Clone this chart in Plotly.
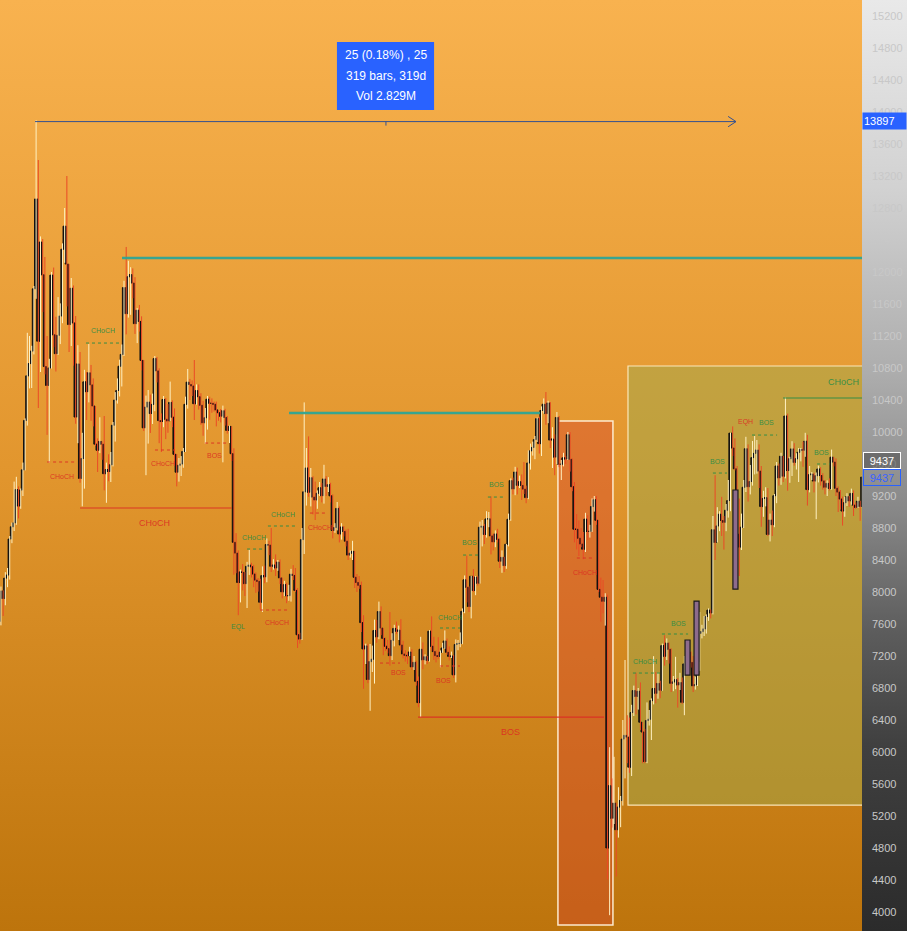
import base64
import plotly.graph_objects as go

# ---------------- data (daily candles, 2019-06-10 .. 2020-07-06) ----------------
open_first = 7632

close = [
    # Jun 2019 (10-30)
    8014, 7918, 8174, 8212, 8662, 8815, 8864, 9280, 9075, 9274, 9527, 10145, 10702, 10855, 11011, 11790, 12913, 11135, 12374, 11965, 10818,
    # Jul
    10582, 10801, 11961, 11215, 10979, 11209, 11450, 12285, 12573, 12099, 11343, 11797, 11363, 10187, 10851, 9420, 9668, 10627, 10504, 10740, 10589, 10325, 9848, 9772, 9882, 9847, 9478, 9531, 9506, 9590, 10085,
    # Aug
    10400, 10519, 10822, 10970, 11805, 11479, 11941, 11967, 11862, 11354, 11523, 11382, 10895, 10052, 10311, 10374, 10231, 10345, 10918, 10764, 10142, 10131, 10407, 10159, 10138, 10370, 10185, 9721, 9498, 9584, 9600,
    # Sep
    9757, 10346, 10623, 10594, 10575, 10353, 10517, 10441, 10334, 10115, 10178, 10410, 10360, 10358, 10347, 10276, 10241, 10198, 10266, 10181, 10019, 10070, 9729, 8621, 8486, 8118, 8251, 8245, 8104, 8321,
    # Oct
    8336, 8315, 8225, 8149, 8133, 7872, 8205, 8190, 8594, 8586, 8321, 8337, 8301, 8374, 8176, 8002, 8092, 7953, 7955, 8223, 8207, 8020, 7466, 7412, 8655, 9252, 9550, 9248, 9428, 9186, 9150,
    # Nov
    9234, 9303, 9204, 9413, 9320, 9341, 9202, 8769, 8805, 9045, 8725, 8812, 8757, 8635, 8461, 8485, 8508, 8184, 8119, 8083, 7617, 7288, 7326, 6906, 7130, 7160, 7519, 7440, 7756, 7549,
    # Dec
    7420, 7322, 7292, 7204, 7396, 7545, 7510, 7523, 7337, 7225, 7209, 7204, 7250, 7064, 7121, 6883, 6617, 7284, 7152, 7191, 7145, 7510, 7322, 7255, 7205, 7195, 7247, 7300, 7388, 7246, 7195,
    # Jan 2020
    7200, 6965, 7344, 7355, 7358, 7759, 8152, 8059, 7818, 8197, 8020, 8185, 8110, 8810, 8821, 8720, 8913, 8915, 8701, 8627, 8725, 8660, 8385, 8433, 8330, 8597, 8909, 9392, 9289, 9500, 9334,
    # Feb
    9378, 9332, 9286, 9180, 9613, 9764, 9807, 9905, 10167, 9854, 10269, 10347, 10230, 10363, 9899, 9911, 9686, 10182, 9596, 9598, 9677, 9663, 9966, 9658, 9316, 8785, 8784, 8672, 8600,
    # Mar
    8535, 8911, 8757, 8758, 9068, 9153, 8896, 8033, 7935, 7884, 7934, 4800, 5578, 5172, 5361, 5028, 5312, 5393, 6162, 6208, 6186, 5810, 6493, 6768, 6694, 6760, 6372, 6250, 5881, 6394, 6410,
    # Apr
    6642, 6794, 6734, 6857, 6772, 7330, 7197, 7361, 7283, 6858, 6876, 6903, 6838, 6868, 6621, 7101, 7027, 7248, 7120, 6827, 6841, 7125, 7483, 7505, 7539, 7694, 7774, 7738, 8778, 8620,
    # May
    8826, 8972, 8894, 8871, 9022, 9143, 9986, 9800, 9540, 8723, 8561, 8810, 9309, 9791, 9316, 9381, 9680, 9733, 9775, 9511, 9068, 9170, 9179, 8720, 8900, 8841, 9204, 9575, 9427, 9697, 9448,
    # Jun
    10200, 9518, 9666, 9789, 9621, 9666, 9746, 9782, 9772, 9885, 9280, 9465, 9474, 9386, 9454, 9538, 9456, 9388, 9310, 9358, 9294, 9685, 9624, 9296, 9249, 9162, 9012, 9116, 9192, 9138,
    # Jul
    9232, 9086, 9058, 9135, 9069, 9437,
]

high = [
    # Jun 2019
    8068, 8020, 8248, 8300, 8700, 8868, 9380, 9440, 9320, 9294, 9618, 10170, 11240, 11200, 11078, 11825, 13897, 13400, 12445, 12412, 12188,
    # Jul
    11200, 10915, 12000, 12056, 11441, 11686, 11608, 12358, 12800, 13200, 12100, 11925, 11832, 11450, 11085, 11000, 9990, 10777, 10750, 11100, 10838, 10670, 10325, 9920, 10184, 9880, 10200, 9617, 9722, 9750, 10125,
    # Aug
    10499, 10670, 10904, 11094, 11890, 12313, 12140, 12060, 12045, 11935, 11549, 11588, 11446, 10899, 10455, 10525, 10468, 10480, 10950, 10938, 10796, 10233, 10450, 10425, 10350, 10630, 10395, 10295, 9725, 9675, 9699,
    # Sep
    9800, 10442, 10788, 10664, 10645, 10900, 10595, 10595, 10485, 10390, 10300, 10450, 10441, 10420, 10380, 10380, 10273, 10287, 10330, 10290, 10200, 10080, 10070, 9796, 8736, 8520, 8280, 8350, 8250, 8377,
    # Oct
    8528, 8365, 8340, 8245, 8175, 8165, 8320, 8330, 8670, 8640, 8800, 8410, 8470, 8400, 8407, 8180, 8140, 8115, 8090, 8289, 8336, 8300, 8050, 7490, 8800, 10370, 9800, 9945, 9550, 9447, 9380,
    # Nov
    9270, 9375, 9363, 9590, 9449, 9435, 9365, 9220, 8860, 9125, 9070, 8860, 8825, 8780, 8790, 8520, 8640, 8510, 8225, 8200, 8130, 7710, 7354, 7353, 7350, 7330, 7655, 7650, 7880, 7820,
    # Dec
    7550, 7430, 7400, 7750, 7485, 7590, 7630, 7580, 7660, 7390, 7275, 7250, 7315, 7285, 7200, 7140, 6944, 7440, 7370, 7220, 7200, 7525, 7695, 7440, 7270, 7435, 7270, 7365, 7520, 7418, 7320,
    # Jan 2020
    7255, 7213, 7407, 7400, 7495, 7795, 8207, 8455, 8070, 8200, 8286, 8200, 8197, 8880, 8900, 8850, 9010, 9000, 9195, 8730, 8770, 8790, 8670, 8520, 8440, 8600, 8980, 9420, 9430, 9565, 9555,
    # Feb
    9455, 9470, 9625, 9330, 9770, 9855, 9880, 9950, 10180, 10190, 10320, 10420, 10500, 10390, 10375, 10060, 9970, 10250, 10200, 9650, 9740, 9700, 10000, 9999, 9670, 9375, 8975, 8895, 8800,
    # Mar
    8750, 8990, 8960, 8840, 9170, 9200, 9200, 8900, 8180, 8150, 7985, 7966, 6060, 5670, 5940, 5365, 5560, 5450, 6400, 7150, 6460, 6430, 6590, 6830, 6990, 6800, 6870, 6300, 6290, 6620, 6525,
    # Apr
    6670, 7198, 7000, 6990, 6890, 7355, 7460, 7420, 7369, 7295, 6950, 7190, 6925, 6990, 6932, 7200, 7150, 7295, 7255, 7200, 6944, 7160, 7750, 7590, 7700, 7720, 7795, 7780, 8950, 9460,
    # May
    9060, 9010, 9190, 8950, 9100, 9400, 9990, 10070, 9920, 9575, 9168, 8980, 9400, 9940, 9845, 9588, 9888, 9950, 9900, 9845, 9575, 9265, 9310, 9300, 8980, 9018, 9225, 9625, 9605, 9740, 9700,
    # Jun
    10430, 10230, 9690, 9885, 9860, 9735, 9800, 9800, 9880, 9990, 9965, 9575, 9500, 9490, 9494, 9580, 9560, 9485, 9400, 9395, 9420, 9780, 9690, 9670, 9320, 9275, 9193, 9190, 9235, 9200,
    # Jul
    9292, 9270, 9120, 9190, 9140, 9460,
]

low = [
    # Jun 2019
    7583, 7700, 7834, 8060, 8155, 8610, 8762, 8840, 8920, 9040, 9200, 9520, 10080, 10545, 10550, 10970, 11665, 10300, 10750, 11500, 10720,
    # Jul
    9964, 9614, 10793, 11060, 10756, 10963, 11099, 11360, 12115, 11570, 11000, 11075, 10830, 10103, 9860, 9366, 9071, 9292, 10150, 10370, 10140, 10070, 9826, 9500, 9736, 9652, 9270, 9115, 9384, 9375, 9570,
    # Aug
    9880, 10355, 10444, 10569, 10950, 11220, 11430, 11465, 11672, 11226, 11111, 11255, 10770, 10012, 9460, 9855, 9988, 10100, 10260, 10620, 9860, 9750, 10060, 9911, 9990, 10150, 10060, 9580, 9320, 9380, 9450,
    # Sep
    9553, 9750, 10292, 10400, 10450, 10150, 10341, 10280, 10090, 9953, 9853, 10030, 10153, 10240, 10255, 10070, 10140, 10120, 9621, 10080, 9980, 9862, 9637, 8215, 8235, 7710, 7870, 8020, 7950, 7800,
    # Oct
    8213, 8181, 8060, 7990, 8005, 7786, 7750, 8110, 8122, 8460, 8250, 8280, 8200, 8265, 8100, 7920, 7950, 7860, 7890, 7880, 8150, 8000, 7300, 7355, 7400, 8475, 9080, 9190, 9070, 8970, 8900,
    # Nov
    9040, 9200, 9120, 9105, 9200, 9250, 9120, 8670, 8740, 8770, 8620, 8655, 8695, 8570, 8400, 8430, 8400, 8050, 8000, 8040, 7500, 6790, 7100, 6860, 6515, 7000, 6855, 7365, 7410, 7460,
    # Dec
    7210, 7265, 7235, 7080, 7150, 7320, 7475, 7400, 7270, 7170, 7130, 7100, 7200, 7025, 7025, 6830, 6560, 6435, 7035, 7095, 7100, 7130, 7265, 7150, 7120, 7160, 7060, 7240, 7290, 7215, 7145,
    # Jan 2020
    7175, 6925, 6870, 7272, 7310, 7347, 7735, 7870, 7750, 7670, 8000, 7960, 8080, 8105, 8570, 8600, 8680, 8810, 8470, 8520, 8560, 8620, 8300, 8240, 8250, 8290, 8570, 8890, 9220, 9210, 9220,
    # Feb
    9300, 9150, 9225, 9110, 9160, 9530, 9705, 9660, 9875, 9730, 9700, 10230, 10090, 10110, 9800, 9550, 9460, 9600, 9560, 9400, 9570, 9600, 9650, 9505, 9260, 8620, 8533, 8450, 8560,
    # Mar
    8410, 8500, 8650, 8680, 8750, 9005, 8840, 8000, 7630, 7735, 7580, 4410, 3960, 5055, 5100, 4444, 4930, 5060, 5330, 5670, 5860, 5740, 5700, 6450, 6470, 6530, 6275, 5860, 5860, 5860, 6330,
    # Apr
    6150, 6595, 6610, 6666, 6673, 6765, 7080, 7150, 7105, 6750, 6760, 6785, 6555, 6775, 6600, 6460, 6980, 7020, 7055, 6750, 6780, 6825, 7015, 7420, 7450, 7480, 7640, 7670, 7720, 8400,
    # May
    8620, 8760, 8700, 8530, 8760, 8930, 9010, 9700, 9520, 8117, 8200, 8525, 8800, 9250, 9130, 9220, 9330, 9470, 9480, 9300, 8815, 8940, 9070, 8700, 8632, 8700, 8810, 9110, 9330, 9340, 9375,
    # Jun
    9420, 9266, 9365, 9450, 9580, 9531, 9375, 9633, 9565, 9690, 9080, 9245, 9400, 9245, 8910, 9370, 9330, 9280, 9220, 9200, 9270, 9280, 9570, 9200, 9000, 9030, 8830, 8940, 9075, 9065,
    # Jul
    9090, 8950, 9040, 9050, 8890, 9055,
]

price_ticks = list(range(4000, 15201, 400))
tick_text = [str(v) for v in price_ticks]

# SMC structure labels: (text, colour, bar index, price, size)
smc_labels = [
    ("CHoCH", "g", 46.9, 11275, 7), ("CHoCH", "r", 28.3, 9450, 7),
    ("CHoCH", "r", 70.2, 8862, 9), ("CHoCH", "r", 74.2, 9612, 7),
    ("BOS", "r", 97.5, 9712, 7), ("CHoCH", "g", 128.9, 8975, 7),
    ("CHoCH", "g", 115.7, 8687, 7), ("EQL", "g", 108.4, 7562, 7),
    ("CHoCH", "r", 126.1, 7625, 7), ("CHoCH", "r", 145.7, 8812, 7),
    ("BOS", "r", 181.2, 7000, 7), ("CHoCH", "g", 204.9, 7687, 7),
    ("BOS", "r", 201.7, 6900, 7), ("BOS", "g", 213.9, 8625, 7),
    ("BOS", "g", 226.2, 9350, 7), ("CHoCH", "r", 266.3, 8250, 7),
    ("BOS", "r", 232.2, 6250, 9), ("CHoCH", "g", 293.6, 7137, 7),
    ("BOS", "g", 309.0, 7612, 7), ("BOS", "g", 326.8, 9637, 7),
    ("EQH", "r", 339.5, 10125, 7), ("BOS", "g", 349.1, 10125, 7),
    ("BOS", "g", 373.7, 9750, 7), ("CHoCH", "g", 383.7, 10625, 9),
]
# dashed structure levels: (x0, x1, price, colour)
smc_dashed = [
    (39.2, 54.7, 11112, "g"), (21.5, 34.2, 9625, "r"), (70.6, 79.7, 9775, "r"),
    (93.4, 103.4, 9862, "r"), (122.0, 135.2, 8825, "g"), (112.5, 120.7, 8537, "g"),
    (118.4, 130.7, 7775, "r"), (141.1, 148.9, 8987, "r"), (173.0, 182.1, 7112, "r"),
    (200.3, 209.4, 7550, "g"), (200.3, 209.4, 7075, "r"), (210.8, 217.6, 8462, "g"),
    (222.1, 229.0, 9187, "g"), (262.6, 270.8, 8425, "r"), (288.1, 300.4, 6987, "g"),
    (301.3, 313.2, 7475, "g"), (324.5, 330.9, 9487, "g"), (342.3, 353.7, 9962, "g"),
    (371.9, 377.8, 9600, "g"),
]
# solid structure levels
smc_solid = [
    (36.5, 105.6, 9050, "r"), (190.3, 274.9, 6437, "r"), (356.4, 400, 10425, "g"),
]
teal_levels = [(55.6, 400, 12175), (131.6, 245.8, 10237)]
# highlighted candle boxes (x0, x1, p0, p1)
purple_boxes = [(311.8, 314.1, 6962, 7400), (315.9, 318.2, 6962, 7887), (333.6, 335.9, 8037, 9275)]

COL = {"g": "rgba(38,140,70,0.9)", "r": "rgba(220,45,35,0.9)"}

# ---------------- build ----------------
n = len(close)
idx = list(range(n))
opens = [open_first] + close[:-1]

up_x, up_y, dn_x, dn_y = [], [], [], []
body_hi, body_lo = [], []
for i, (o, h, l, c) in enumerate(zip(opens, high, low, close)):
    hh, ll = max(h, o, c), min(l, o, c)
    xs = i + 0.5
    if c >= o:
        up_x += [xs, xs, None]; up_y += [ll, hh, None]
    else:
        dn_x += [xs, xs, None]; dn_y += [ll, hh, None]
    body_hi.append(max(o, c)); body_lo.append(min(o, c))

fig = go.Figure()
fig.add_trace(go.Scatter(x=up_x, y=up_y, mode="lines", line=dict(color="#fff1c2", width=1),
                         hoverinfo="skip"))
fig.add_trace(go.Scatter(x=dn_x, y=dn_y, mode="lines", line=dict(color="#ea4a26", width=1),
                         hoverinfo="skip"))
fig.add_trace(go.Candlestick(
    x=idx, open=opens, close=close, high=body_hi, low=body_lo,
    increasing=dict(line=dict(color="#111111", width=1), fillcolor="#111111"),
    decreasing=dict(line=dict(color="#111111", width=1), fillcolor="#111111"),
    whiskerwidth=0, hoverinfo="skip"))


def svg_grad(w, h, stops):
    s = "".join(f'<stop offset="{o}" stop-color="{c}"/>' for o, c in stops)
    svg = (f'<svg xmlns="http://www.w3.org/2000/svg" width="{w}" height="{h}" '
           f'viewBox="0 0 {w} {h}" preserveAspectRatio="none"><defs>'
           f'<linearGradient id="g" x1="0" y1="0" x2="0" y2="1">{s}</linearGradient>'
           f'</defs><rect width="{w}" height="{h}" fill="url(#g)"/></svg>')
    return "data:image/svg+xml;base64," + base64.b64encode(svg.encode()).decode()


W, H, PW = 907, 931, 862
plot_bg = svg_grad(PW, H, [(0, "#f8b24f"), (0.5, "#e2962e"), (1, "#bd740c")])
axis_bg = svg_grad(W - PW, H, [(0, "#e9e9e9"), (0.2, "#d2d2d2"), (0.4, "#adadad"),
                               (0.55, "#878787"), (0.68, "#5c5c5c"), (0.8, "#404040"),
                               (1, "#2b2b2b")])

shapes = []
# zones
shapes.append(dict(type="rect", xref="x", yref="y", x0=253.97, x1=279.0, y0=3837, y1=10137,
                   fillcolor="rgba(215,60,48,0.37)", line=dict(color="rgba(255,240,215,0.95)", width=1.5),
                   layer="below"))
shapes.append(dict(type="rect", xref="x", yref="y", x0=285.85, x1=420, y0=5337, y1=10825,
                   fillcolor="rgba(150,170,80,0.45)", line=dict(color="rgba(255,240,200,0.9)", width=1.2),
                   layer="below"))
for x0, x1, p0, p1 in purple_boxes:
    shapes.append(dict(type="rect", xref="x", yref="y", x0=x0, x1=x1, y0=p0, y1=p1,
                       fillcolor="#8d6b8c", line=dict(color="#1a1a1a", width=1.2), layer="above"))
for x0, x1, p in teal_levels:
    shapes.append(dict(type="line", xref="x", yref="y", x0=x0, x1=x1, y0=p, y1=p,
                       line=dict(color="rgba(45,165,150,0.95)", width=2.5)))
for x0, x1, p, c in smc_solid:
    shapes.append(dict(type="line", xref="x", yref="y", x0=x0, x1=x1, y0=p, y1=p,
                       line=dict(color=COL[c], width=1.2)))
for x0, x1, p, c in smc_dashed:
    shapes.append(dict(type="line", xref="x", yref="y", x0=x0, x1=x1, y0=p, y1=p,
                       line=dict(color=COL[c], width=1, dash="3px,3px")))
# measure tool
MC = "#34508f"
shapes.append(dict(type="line", xref="x", yref="y", x0=16.0, x1=335.0, y0=13880, y1=13880,
                   line=dict(color=MC, width=1)))
shapes.append(dict(type="line", xref="x", yref="y", x0=335.0, x1=331.4, y0=13880, y1=13945,
                   line=dict(color=MC, width=1)))
shapes.append(dict(type="line", xref="x", yref="y", x0=335.0, x1=331.4, y0=13880, y1=13815,
                   line=dict(color=MC, width=1)))
shapes.append(dict(type="line", xref="x", yref="y", x0=175.7, x1=175.7, y0=13880, y1=13830,
                   line=dict(color=MC, width=1)))
# tooltip box
shapes.append(dict(type="rect", xref="x", yref="y", x0=153.4, x1=197.6, y0=14025, y1=14875,
                   fillcolor="#2962ff", line=dict(width=0), layer="above"))

annotations = []
for t, c, x, p, s in smc_labels:
    annotations.append(dict(x=x, y=p, xref="x", yref="y", text=t, showarrow=False,
                            font=dict(family="Liberation Sans", size=s, color=COL[c])))
for t, p in [("25 (0.18%) , 25", 14712), ("319 bars, 319d", 14456), ("Vol 2.829M", 14200)]:
    annotations.append(dict(x=175.5, y=p, xref="x", yref="y", text=t, showarrow=False,
                            font=dict(family="Liberation Sans", size=12, color="white")))
# price tags on axis
annotations.append(dict(x=1, xref="paper", xanchor="left", y=13887, yref="y", text="13897",
                        showarrow=False, bgcolor="#2962ff", width=41, height=14, align="left",
                        borderpad=1, font=dict(family="Liberation Sans", size=11, color="white")))
annotations.append(dict(x=1.001, xref="paper", xanchor="left", y=9650, yref="y", text="9437",
                        showarrow=False, bgcolor="rgba(75,75,75,0.55)", bordercolor="white",
                        borderwidth=1, width=34, height=13, borderpad=1,
                        font=dict(family="Liberation Sans", size=11, color="white")))
annotations.append(dict(x=1.001, xref="paper", xanchor="left", y=9437, yref="y", text="9437",
                        showarrow=False, bordercolor="#2962ff", borderwidth=1, width=34, height=13,
                        borderpad=1, font=dict(family="Liberation Sans", size=11, color="#3a64ff")))

fig.update_layout(
    width=W, height=H, margin=dict(l=0, r=W - PW, t=0, b=0),
    paper_bgcolor="#2b2b2b", plot_bgcolor="rgba(0,0,0,0)", showlegend=False,
    boxgap=0.35,
    images=[dict(source=plot_bg, xref="paper", yref="paper", x=0, y=1, sizex=1, sizey=1,
                 xanchor="left", yanchor="top", sizing="stretch", layer="below"),
            dict(source=axis_bg, xref="paper", yref="paper", x=1, y=1, sizex=(W - PW) / PW, sizey=1,
                 xanchor="left", yanchor="top", sizing="stretch", layer="below")],
    shapes=shapes, annotations=annotations,
    xaxis=dict(range=[0.07, 392.34], visible=False, showgrid=False, zeroline=False,
               rangeslider=dict(visible=False)),
    yaxis=dict(range=[3762.5, 15400], side="right", tickvals=price_ticks, ticktext=tick_text,
               tickfont=dict(family="Liberation Sans", size=11, color="#c8c8c8"),
               showgrid=False, zeroline=False, ticks="", ticklabelstandoff=9, showline=False),
)

fig.write_html("out.html", config={"displayModeBar": False})

# remove the browser's default page margin so the figure fills the window exactly
with open("out.html", encoding="utf-8") as f:
    page = f.read()
page = page.replace("<body>", '<body style="margin:0;padding:0;overflow:hidden">', 1)
page = page.replace("<head>", "<head><style>html,body{margin:0;padding:0;}</style>", 1)
with open("out.html", "w", encoding="utf-8") as f:
    f.write(page)
